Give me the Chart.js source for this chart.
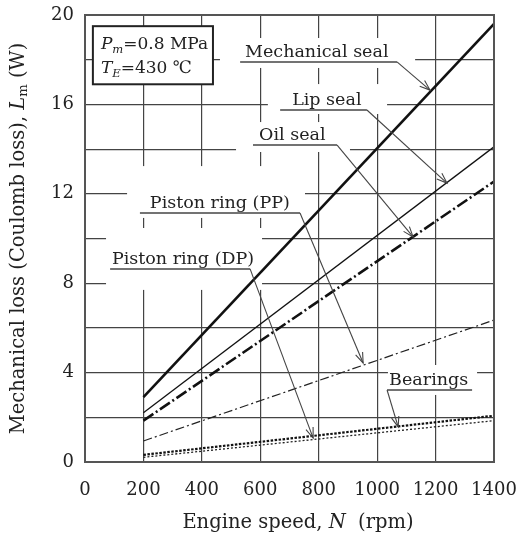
<!DOCTYPE html>
<html>
<head>
<meta charset="utf-8">
<script src="https://cdn.jsdelivr.net/npm/chart.js@4/dist/chart.umd.min.js"></script>
<style>
html,body{margin:0;padding:0;background:#fff;}
#wrap{width:521px;height:539px;position:relative;}
</style>
</head>
<body>
<div id="wrap"><canvas id="c"></canvas></div>
<script>
// ---- data ----
const speeds = [200, 1400];
const mechanicalSeal = [2.9, 19.6];
const lipSeal = [2.2, 14.1];
const oilSeal = [1.85, 12.55];
const pistonRingPP = [0.94, 6.35];
const pistonRingDP = [0.21, 1.85];
const bearings = [0.32, 2.07];

const xTicks = [0, 200, 400, 600, 800, 1000, 1200, 1400];
const yTicks = [0, 4, 8, 12, 16, 20];

// ---- annotation layout (data units) ----
const labels = [
  {text:'Mechanical seal', textX:548, x0:531, x1:1068, y:17.9, tipX:1181, tipY:16.64, from:'end'},
  {text:'Lip seal', textX:709, x0:668, x1:965, y:15.75, tipX:1239, tipY:12.48, from:'end'},
  {text:'Oil seal', textX:596, x0:575, x1:863, y:14.18, tipX:1123, tipY:10.07, from:'end'},
  {text:'Piston ring (PP)', textX:222, x0:188, x1:736, y:11.14, tipX:952, tipY:4.43, from:'end'},
  {text:'Piston ring (DP)', textX:92, x0:86, x1:565, y:8.64, tipX:781, tipY:1.07, from:'end'},
  {text:'Bearings', textX:1041, x0:1034, x1:1325, y:3.22, tipX:1072, tipY:1.57, from:'start'}
];
const gridGaps = [
  [462,1130,17.63,18.97],
  [626,1034,15.57,16.91],
  [517,907,13.87,15.21],
  [144,753,10.92,13.24],
  [72,606,7.7,10.47],
  [1037,1342,3.0,4.34]
];
const infoBox = [27,438,16.9,19.5];

const FONT = '"DejaVu Serif", "Liberation Serif", serif';
const INK = '#222';

function pts(arr){ return speeds.map((s,i)=>({x:s,y:arr[i]})); }

function drawRich(ctx, parts, x, y, size){
  let cx = x;
  parts.forEach(p=>{
    const fs = p.sub ? size*0.68 : size;
    ctx.font = (p.it ? 'italic ' : '') + fs + 'px ' + FONT;
    ctx.fillText(p.t, cx, y + (p.sub ? size*0.22 : 0));
    cx += ctx.measureText(p.t).width;
  });
  return cx - x;
}
function richWidth(ctx, parts, size){
  let w = 0;
  parts.forEach(p=>{
    const fs = p.sub ? size*0.68 : size;
    ctx.font = (p.it ? 'italic ' : '') + fs + 'px ' + FONT;
    w += ctx.measureText(p.t).width;
  });
  return w;
}

const decor = {
  id:'decor',
  beforeDatasetsDraw(chart){
    const {ctx, scales:{x, y}} = chart;
    ctx.save();
    ctx.fillStyle = '#fff';
    gridGaps.concat([infoBox]).forEach(g=>{
      const l = x.getPixelForValue(g[0]), r = x.getPixelForValue(g[1]);
      const t = y.getPixelForValue(g[3]), b = y.getPixelForValue(g[2]);
      ctx.fillRect(l, t, r-l, b-t);
    });
    ctx.restore();
  },
  afterDatasetsDraw(chart){
    const {ctx, chartArea:a, scales:{x, y}} = chart;
    ctx.save();
    // frame
    ctx.strokeStyle = '#555';
    ctx.lineWidth = 2;
    ctx.strokeRect(a.left, a.top, a.right-a.left, a.bottom-a.top);
    // info box
    const bl = x.getPixelForValue(infoBox[0]), br = x.getPixelForValue(infoBox[1]);
    const bt = y.getPixelForValue(infoBox[3]), bb = y.getPixelForValue(infoBox[2]);
    ctx.strokeStyle = '#222';
    ctx.lineWidth = 2;
    ctx.strokeRect(bl, bt, br-bl, bb-bt);
    ctx.fillStyle = INK;
    ctx.textBaseline = 'alphabetic';
    drawRich(ctx, [{t:'P',it:1},{t:'m',it:1,sub:1},{t:'=0.8 MPa'}], bl+8, bt+23, 17);
    drawRich(ctx, [{t:'T',it:1},{t:'E',it:1,sub:1},{t:'=430 ℃'}], bl+8, bt+47, 17);
    // labels with leaders
    labels.forEach(L=>{
      const x0 = x.getPixelForValue(L.x0), x1 = x.getPixelForValue(L.x1);
      const yy = y.getPixelForValue(L.y);
      const tx = x.getPixelForValue(L.tipX), ty = y.getPixelForValue(L.tipY);
      ctx.strokeStyle = '#444';
      ctx.lineWidth = 1.5;
      ctx.beginPath(); ctx.moveTo(x0, yy); ctx.lineTo(x1, yy); ctx.stroke();
      const sx = L.from === 'start' ? x0 : x1;
      ctx.lineWidth = 1.1;
      ctx.beginPath(); ctx.moveTo(sx, yy); ctx.lineTo(tx, ty); ctx.stroke();
      const ang = Math.atan2(ty-yy, tx-sx);
      const len = 11, sp = 0.35;
      ctx.beginPath();
      ctx.moveTo(tx - len*Math.cos(ang-sp), ty - len*Math.sin(ang-sp));
      ctx.lineTo(tx, ty);
      ctx.lineTo(tx - len*Math.cos(ang+sp), ty - len*Math.sin(ang+sp));
      ctx.stroke();
      ctx.fillStyle = INK;
      ctx.font = '17.5px ' + FONT;
      ctx.fillText(L.text, x.getPixelForValue(L.textX), yy - 5);
    });
    ctx.restore();
  },
  afterDraw(chart){
    const {ctx, chartArea:a} = chart;
    ctx.save();
    ctx.fillStyle = INK;
    ctx.textBaseline = 'middle';
    // x title
    const xp = [{t:'Engine speed, '},{t:'N',it:1},{t:'  (rpm)'}];
    const xw = richWidth(ctx, xp, 19.5);
    drawRich(ctx, xp, 298 - xw/2, 523, 19.5);
    // y title
    const yp = [{t:'Mechanical loss (Coulomb loss), '},{t:'L',it:1},{t:'m',it:0,sub:1},{t:' (W)'}];
    const yw = richWidth(ctx, yp, 19.5);
    ctx.translate(19, (a.top+a.bottom)/2);
    ctx.rotate(-Math.PI/2);
    drawRich(ctx, yp, -yw/2, 0, 19.5);
    ctx.restore();
  }
};

new Chart(document.getElementById('c'), {
  type:'line',
  data:{
    datasets:[
      {label:'Mechanical seal', data:pts(mechanicalSeal), borderColor:'#111', borderWidth:2.6},
      {label:'Lip seal', data:pts(lipSeal), borderColor:'#111', borderWidth:1.3},
      {label:'Oil seal', data:pts(oilSeal), borderColor:'#111', borderWidth:2.6, borderDash:[12,3,2,3]},
      {label:'Piston ring (PP)', data:pts(pistonRingPP), borderColor:'#222', borderWidth:1.2, borderDash:[9,3,2,3]},
      {label:'Piston ring (DP)', data:pts(pistonRingDP), borderColor:'#222', borderWidth:1.3, borderDash:[2,2]},
      {label:'Bearings', data:pts(bearings), borderColor:'#111', borderWidth:2.2, borderDash:[2.5,1.5]}
    ]
  },
  options:{
    responsive:true, maintainAspectRatio:false, animation:false,
    layout:{padding:{top:15, right:27, left:0, bottom:0}},
    elements:{point:{radius:0}, line:{tension:0, fill:false}},
    plugins:{legend:{display:false}, tooltip:{enabled:false}},
    scales:{
      x:{
        type:'linear', min:0, max:1400,
        afterBuildTicks(s){ s.ticks = xTicks.map(v=>({value:v})); },
        afterFit(s){ s.height = 77; s.paddingLeft = 0; s.paddingRight = 0; },
        grid:{color:'#444', lineWidth:1.2, drawTicks:false},
        border:{display:false},
        ticks:{padding:18, color:INK, font:{family:FONT, size:18}, maxRotation:0, autoSkip:false,
          callback:(v)=> String(v)}
      },
      y:{
        min:0, max:20,
        afterBuildTicks(s){
          const t = [];
          for (let v = 0; v <= 20; v += 2) t.push({value:v});
          s.ticks = t;
        },
        afterFit(s){ s.width = 85; s.paddingTop = 0; s.paddingBottom = 0; },
        grid:{color:'#444', lineWidth:1.2, drawTicks:false},
        border:{display:false},
        ticks:{padding:11, color:INK, font:{family:FONT, size:18}, autoSkip:false,
          callback:(v)=> yTicks.includes(v) ? String(v) : ''}
      }
    }
  },
  plugins:[decor]
});
</script>
</body>
</html>
